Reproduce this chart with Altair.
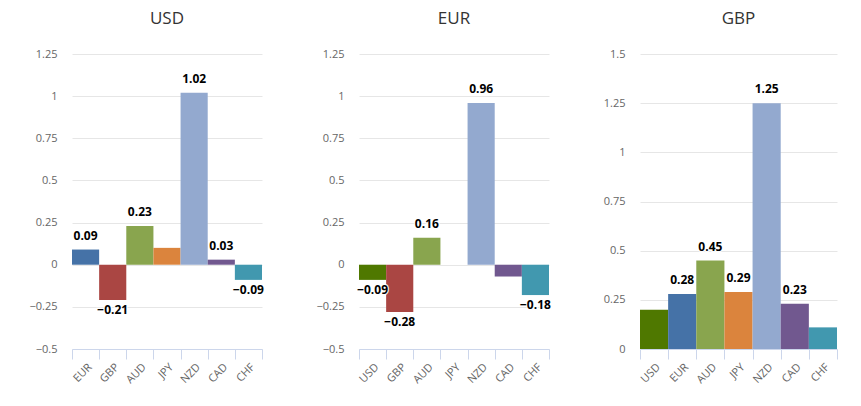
import altair as alt
import pandas as pd

currencies = ["USD", "EUR", "GBP", "AUD", "JPY", "NZD", "CAD", "CHF"]
palette = ["#4f7800", "#4572a7", "#aa4643", "#89a54e", "#db843d", "#93a9cf", "#71588f", "#4198af"]

usd_cats = ["EUR", "GBP", "AUD", "JPY", "NZD", "CAD", "CHF"]
usd_vals = [0.09, -0.21, 0.23, 0.10, 1.02, 0.03, -0.09]
usd_show = [True, True, True, False, True, True, True]

eur_cats = ["USD", "GBP", "AUD", "JPY", "NZD", "CAD", "CHF"]
eur_vals = [-0.09, -0.28, 0.16, 0.0, 0.96, -0.07, -0.18]
eur_show = [True, True, True, False, True, False, True]

gbp_cats = ["USD", "EUR", "AUD", "JPY", "NZD", "CAD", "CHF"]
gbp_vals = [0.20, 0.28, 0.45, 0.29, 1.25, 0.23, 0.11]
gbp_show = [False, True, True, True, True, True, False]

ticks_a = [-0.5, -0.25, 0, 0.25, 0.5, 0.75, 1, 1.25]
ticks_b = [0, 0.25, 0.5, 0.75, 1, 1.25, 1.5]

FONT = "Open Sans"
PLOT_H = 295


def panel(title, cats, vals, show, domain, ticks, width, extent):
    df = pd.DataFrame({"cat": cats, "val": vals, "show": show})
    base = alt.Chart(df)
    x = alt.X("cat:N", sort=None, title=None,
              scale=alt.Scale(paddingInner=0, paddingOuter=0),
              axis=alt.Axis(labelAngle=-45, tickBand="extent", tickSize=10,
                            tickColor="#ccd6eb", domainColor="#ccd6eb",
                            labelColor="#666666", labelFontSize=11, labelFont=FONT,
                            labelPadding=2, grid=False))
    y = alt.Y("val:Q", title=None,
              scale=alt.Scale(domain=domain, nice=False, zero=True),
              axis=alt.Axis(values=ticks, format=".3~g", ticks=False, domain=False,
                            labelPadding=15, labelColor="#666666", labelFontSize=11,
                            labelFont=FONT, gridColor="#e6e6e6",
                            minExtent=extent, maxExtent=extent))
    bars = base.mark_bar().encode(
        x=x, y=y,
        color=alt.Color("cat:N", scale=alt.Scale(domain=currencies, range=palette), legend=None),
    )
    txt = dict(fontWeight="bold", fontSize=12, font=FONT)
    enc = dict(x=alt.X("cat:N", sort=None), y="val:Q", text=alt.Text("val:Q", format=".2f"))
    pos_f = "datum.show && datum.val >= 0"
    neg_f = "datum.show && datum.val < 0"
    pos_halo = base.transform_filter(pos_f).mark_text(
        baseline="bottom", dy=-7, color="#ffffff", stroke="#ffffff", strokeWidth=2.5,
        strokeOpacity=0.9, **txt).encode(**enc)
    pos = base.transform_filter(pos_f).mark_text(
        baseline="bottom", dy=-7, color="#000000", **txt).encode(**enc)
    neg_halo = base.transform_filter(neg_f).mark_text(
        baseline="top", dy=5, color="#ffffff", stroke="#ffffff", strokeWidth=2.5,
        strokeOpacity=0.9, **txt).encode(**enc)
    neg = base.transform_filter(neg_f).mark_text(
        baseline="top", dy=5, color="#000000", **txt).encode(**enc)
    return alt.layer(bars, pos_halo, neg_halo, pos, neg).properties(
        width=width, height=PLOT_H,
        title=alt.TitleParams(title, fontSize=17, font=FONT, fontWeight="normal",
                              color="#333333", offset=20),
    )


chart = alt.hconcat(
    panel("USD", usd_cats, usd_vals, usd_show, [-0.5, 1.25], ticks_a, 190, 50),
    panel("EUR", eur_cats, eur_vals, eur_show, [-0.5, 1.25], ticks_a, 190, 50),
    panel("GBP", gbp_cats, gbp_vals, gbp_show, [0, 1.5], ticks_b, 197, 44),
    spacing=45,
).properties(
    padding={"left": 22, "top": 10, "right": 5, "bottom": 5},
    background="#ffffff",
).configure_view(stroke=None).configure_bar(
    discreteBandSize={"band": 1}
)

chart.save("out.html", embed_options={"renderer": "svg", "actions": False})
